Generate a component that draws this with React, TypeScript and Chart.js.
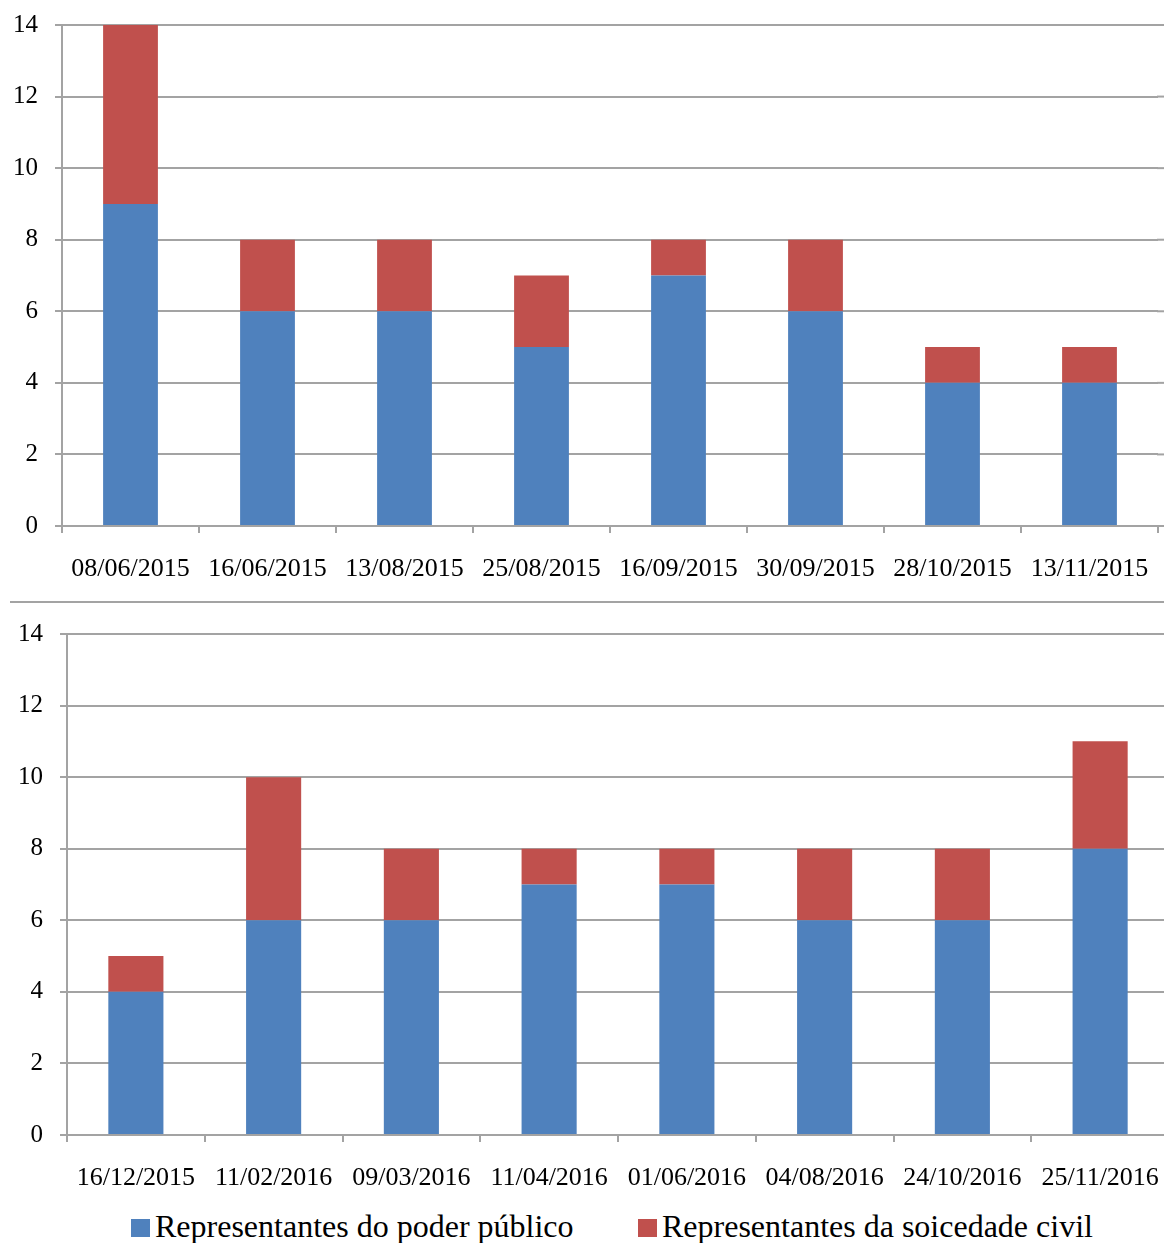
import React, { useEffect, useRef } from "react";
import { Chart, registerables } from "chart.js";

Chart.register(...registerables);

const topLabels = ["08/06/2015", "16/06/2015", "13/08/2015", "25/08/2015", "16/09/2015", "30/09/2015", "28/10/2015", "13/11/2015"];
const topPublico = [9, 6, 6, 5, 7, 6, 4, 4];
const topCivil = [5, 2, 2, 2, 1, 2, 1, 1];

const bottomLabels = ["16/12/2015", "11/02/2016", "09/03/2016", "11/04/2016", "01/06/2016", "04/08/2016", "24/10/2016", "25/11/2016"];
const bottomPublico = [4, 6, 6, 7, 7, 6, 6, 8];
const bottomCivil = [1, 4, 2, 1, 1, 2, 2, 3];

const seriesNames = ["Representantes do poder público", "Representantes da soicedade civil"];
const yMin = 0;
const yMax = 14;
const yStep = 2;

const BLUE = "#4F81BD";
const RED = "#C0504D";
const GRID = "#a3a3a3";
const FONT = "'Liberation Serif', 'Times New Roman', serif";

type PanelProps = {
  labels: string[];
  publico: number[];
  civil: number[];
  width: number;
  height: number;
  yAxisWidth: number;
  xAxisHeight: number;
  left: number;
  top: number;
  padTop: number;
  padRight: number;
  extendGrid: number;
};

function BarPanel(p: PanelProps) {
  const ref = useRef<HTMLCanvasElement>(null);
  useEffect(() => {
    const gridExtend = {
      id: "gridExtend",
      afterDraw(chart: any) {
        if (!p.extendGrid) return;
        const ctx = chart.ctx;
        const y = chart.scales.y;
        const area = chart.chartArea;
        ctx.save();
        ctx.strokeStyle = GRID;
        ctx.lineWidth = 2;
        y.ticks.forEach((_t: any, i: number) => {
          const py = y.getPixelForTick(i);
          ctx.beginPath();
          ctx.moveTo(area.right - 1, py);
          ctx.lineTo(area.right + p.extendGrid, py);
          ctx.stroke();
        });
        ctx.restore();
      },
    };
    const chart = new Chart(ref.current as HTMLCanvasElement, {
      type: "bar",
      data: {
        labels: p.labels,
        datasets: [
          { label: seriesNames[0], data: p.publico, backgroundColor: BLUE, barPercentage: 0.4, categoryPercentage: 1 },
          { label: seriesNames[1], data: p.civil, backgroundColor: RED, barPercentage: 0.4, categoryPercentage: 1 },
        ],
      },
      options: {
        responsive: false,
        maintainAspectRatio: false,
        animation: false,
        layout: { padding: { top: p.padTop, left: 0, right: p.padRight, bottom: 0 } },
        plugins: { legend: { display: false }, tooltip: { enabled: false } },
        scales: {
          x: {
            stacked: true,
            grid: { drawOnChartArea: false, color: GRID, lineWidth: 2, tickLength: 7, offset: true },
            border: { color: GRID, width: 2 },
            ticks: { font: { family: FONT, size: 26 }, color: "#000", padding: 21, maxRotation: 0, autoSkip: false },
            afterFit: (s: any) => {
              s.height = p.xAxisHeight;
              s.paddingLeft = 0;
              s.paddingRight = 0;
            },
          },
          y: {
            stacked: true,
            min: yMin,
            max: yMax,
            ticks: { stepSize: yStep, font: { family: FONT, size: 25 }, color: "#000", padding: 17 },
            grid: { color: GRID, lineWidth: 2, tickLength: 7 },
            border: { color: GRID, width: 2 },
            afterFit: (s: any) => {
              s.width = p.yAxisWidth;
              s.paddingTop = 0;
              s.paddingBottom = 0;
            },
          },
        },
      },
      plugins: [gridExtend],
    });
    return () => chart.destroy();
  }, []);
  return (
    <canvas
      ref={ref}
      width={p.width}
      height={p.height}
      style={{ position: "absolute", left: p.left, top: p.top, width: p.width, height: p.height }}
    />
  );
}

export default function App() {
  return (
    <div style={{ position: "relative", width: 1164, height: 1243, overflow: "hidden", background: "#fff" }}>
      <style>{`body{margin:0;overflow:hidden;background:#fff}`}</style>
      <BarPanel labels={topLabels} publico={topPublico} civil={topCivil} width={1164} height={600} yAxisWidth={62} xAxisHeight={74} left={0} top={0} padTop={25} padRight={6} extendGrid={6} />
      <div style={{ position: "absolute", left: 10, top: 601, width: 1154, height: 2, background: GRID }} />
      <BarPanel labels={bottomLabels} publico={bottomPublico} civil={bottomCivil} width={1169} height={586} yAxisWidth={67} xAxisHeight={60} left={0} top={609} padTop={25} padRight={0} extendGrid={0} />
      {[0, 1].map((i) => (
        <div
          key={i}
          style={{
            position: "absolute",
            left: i === 0 ? 131 : 638,
            top: 1211,
            display: "flex",
            alignItems: "flex-start",
            fontFamily: FONT,
            fontSize: 32,
            lineHeight: "31px",
            color: "#000",
            whiteSpace: "nowrap",
          }}
        >
          <span style={{ display: "inline-block", width: 19, height: 18, marginTop: 8, marginRight: 5, background: i === 0 ? BLUE : RED }} />
          <span>{seriesNames[i]}</span>
        </div>
      ))}
    </div>
  );
}
